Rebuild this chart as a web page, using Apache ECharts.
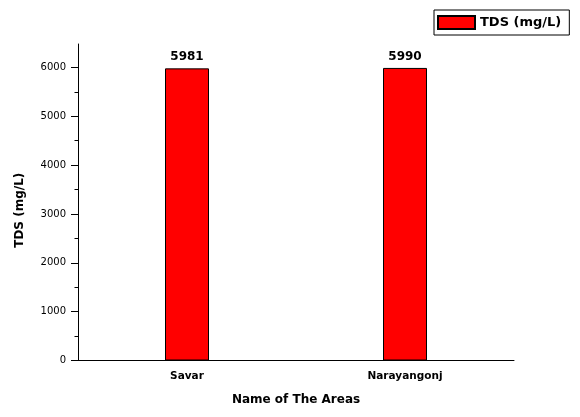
<!DOCTYPE html>
<html>
<head>
<meta charset="utf-8">
<script src="https://cdn.jsdelivr.net/npm/echarts@6/dist/echarts.min.js"></script>
<style>html,body{margin:0;padding:0;background:#fff}#c{width:580px;height:417px}</style>
</head>
<body>
<div id="c"></div>
<script>
const categories = ['Savar', 'Narayangonj'];
const tdsValues = [5981, 5990];
const seriesName = 'TDS (mg/L)';
const yMajorTicks = [0, 1000, 2000, 3000, 4000, 5000, 6000];
const yMinorTicks = [500, 1500, 2500, 3500, 4500, 5500];
const yMax = 6480;
const xTitle = 'Name of The Areas';
const yTitle = 'TDS (mg/L)';

const font = "'DejaVu Sans', sans-serif";
const chart = echarts.init(document.getElementById('c'), null, {renderer: 'canvas'});
chart.setOption({
  animation: false,
  backgroundColor: '#fff',
  grid: {left: 78, right: 66, top: 44, bottom: 56.5},
  legend: {
    left: 434, top: 10,
    padding: [5, 8, 5, 3],
    borderColor: '#000', borderWidth: 1, borderRadius: 0,
    itemWidth: 37, itemHeight: 13, itemGap: 6,
    icon: 'rect',
    textStyle: {fontFamily: font, fontWeight: 'bold', fontSize: 13, color: '#000', lineHeight: 13},
    data: [{name: seriesName, icon: 'rect'}]
  },
  xAxis: [{
    type: 'category', data: categories, position: 'bottom',
    axisLine: {lineStyle: {color: '#000', width: 1}},
    axisTick: {alignWithLabel: true, length: 6, lineStyle: {color: '#000'}},
    axisLabel: {fontFamily: font, fontWeight: 'bold', fontSize: 10.5, color: '#000', margin: 10},
    name: xTitle, nameLocation: 'middle', nameGap: 33,
    nameTextStyle: {fontFamily: font, fontWeight: 'bold', fontSize: 12, color: '#000'}
  }, {
    type: 'category', data: categories, position: 'bottom',
    axisLine: {show: false},
    axisTick: {alignWithLabel: false, length: 3.5, lineStyle: {color: '#000'}},
    axisLabel: {show: false}
  }],
  yAxis: [{
    type: 'value', min: 0, max: yMax,
    axisLine: {show: true, lineStyle: {color: '#000', width: 1}},
    axisTick: {show: true, length: 7, customValues: yMajorTicks, lineStyle: {color: '#000'}},
    axisLabel: {customValues: yMajorTicks, formatter: v => String(v), fontFamily: font, fontSize: 10, color: '#000', margin: 12},
    splitLine: {show: false},
    name: yTitle, nameLocation: 'middle', nameGap: 52,
    nameTextStyle: {fontFamily: font, fontWeight: 'bold', fontSize: 12, color: '#000', padding: [0, 16, 0, 0]}
  }, {
    type: 'value', min: 0, max: yMax, position: 'left',
    axisLine: {show: false},
    axisTick: {show: true, length: 3.5, customValues: yMinorTicks, lineStyle: {color: '#000'}},
    axisLabel: {show: false},
    splitLine: {show: false}
  }],
  series: [{
    name: seriesName, type: 'bar', data: tdsValues, barWidth: 44,
    xAxisIndex: 0, yAxisIndex: 0,
    itemStyle: {color: '#ff0000', borderColor: '#000', borderWidth: 1},
    label: {show: true, position: 'top', distance: 5, fontFamily: font, fontWeight: 'bold', fontSize: 12, color: '#000'}
  }]
});
</script>
</body>
</html>
